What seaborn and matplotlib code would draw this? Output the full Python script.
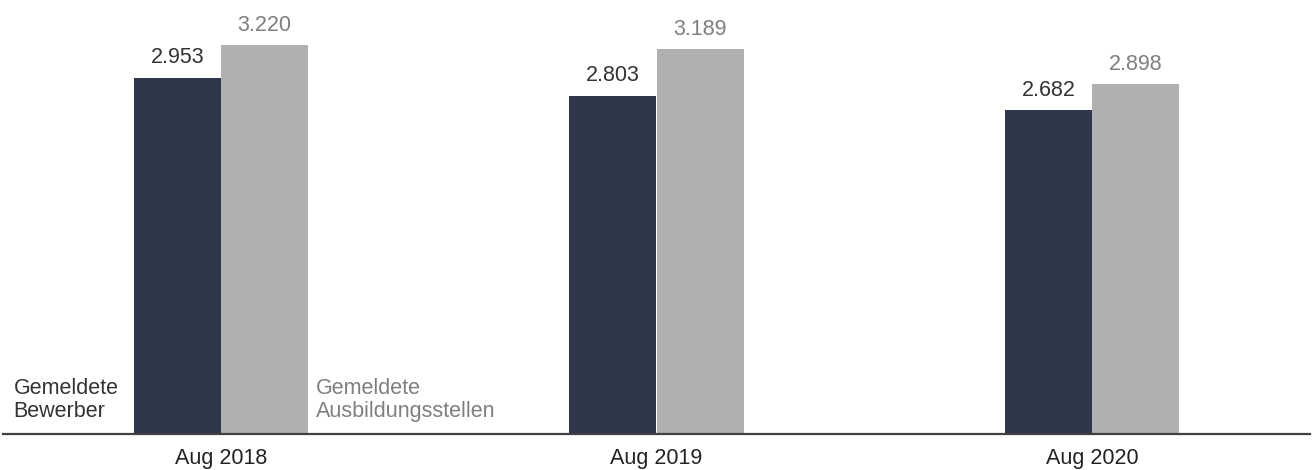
import matplotlib
matplotlib.use("Agg")
import matplotlib.pyplot as plt
import seaborn as sns
import pandas as pd

# Data
years = ["Aug 2018", "Aug 2019", "Aug 2020"]
bewerber = [2953, 2803, 2682]
stellen = [3220, 3189, 2898]
series_names = ["Gemeldete\nBewerber", "Gemeldete\nAusbildungsstellen"]

dark = "#2f374b"
gray = "#b0b0b0"
dark_text = "#333333"
gray_text = "#7f7f7f"
FS = 15.5

df = pd.DataFrame({
    "year": years * 2,
    "value": bewerber + stellen,
    "series": [series_names[0]] * len(years) + [series_names[1]] * len(years),
})

sns.set_style("white")
plt.rcParams["font.family"] = ["Liberation Sans", "DejaVu Sans"]

fig = plt.figure(figsize=(13.12, 4.70), dpi=100)
ax = fig.add_axes([3 / 1312, 36 / 470, 1307 / 1312, 434 / 470])

sns.barplot(data=df, x="year", y="value", hue="series", hue_order=series_names,
            palette=[dark, gray], width=0.4, dodge=True, edgecolor="none",
            linewidth=0, legend=False, ax=ax, saturation=1)

ax.set_xlim(-0.5, 2.5)
ax.set_ylim(0, 3597)

def fmt(v):
    return f"{int(round(v)):,}".replace(",", ".")

text_colors = [dark_text, gray_text]
for cont, col in zip(ax.containers, text_colors):
    ax.bar_label(cont, labels=[fmt(b.get_height()) for b in cont], padding=7,
                 color=col, fontsize=FS)

# Series labels next to the first group
first_dark = ax.containers[0][0]
first_gray = ax.containers[1][0]
ax.annotate(series_names[0], xy=(first_dark.get_x(), 0), xycoords="data",
            xytext=(-120, 12), textcoords="offset pixels", ha="left", va="bottom",
            color=dark_text, fontsize=FS, linespacing=1.15)
ax.annotate(series_names[1], xy=(first_gray.get_x() + first_gray.get_width(), 0),
            xycoords="data", xytext=(8, 12), textcoords="offset pixels",
            ha="left", va="bottom", color=gray_text, fontsize=FS, linespacing=1.15)

for s in ["top", "left", "right"]:
    ax.spines[s].set_visible(False)
ax.spines["bottom"].set_color("#404040")
ax.spines["bottom"].set_linewidth(1.6)
ax.set_yticks([])
ax.set_xlabel("")
ax.set_ylabel("")
ax.tick_params(axis="x", length=0, pad=10, labelsize=FS, labelcolor="#222222")

fig.savefig("out.png", dpi=100)
